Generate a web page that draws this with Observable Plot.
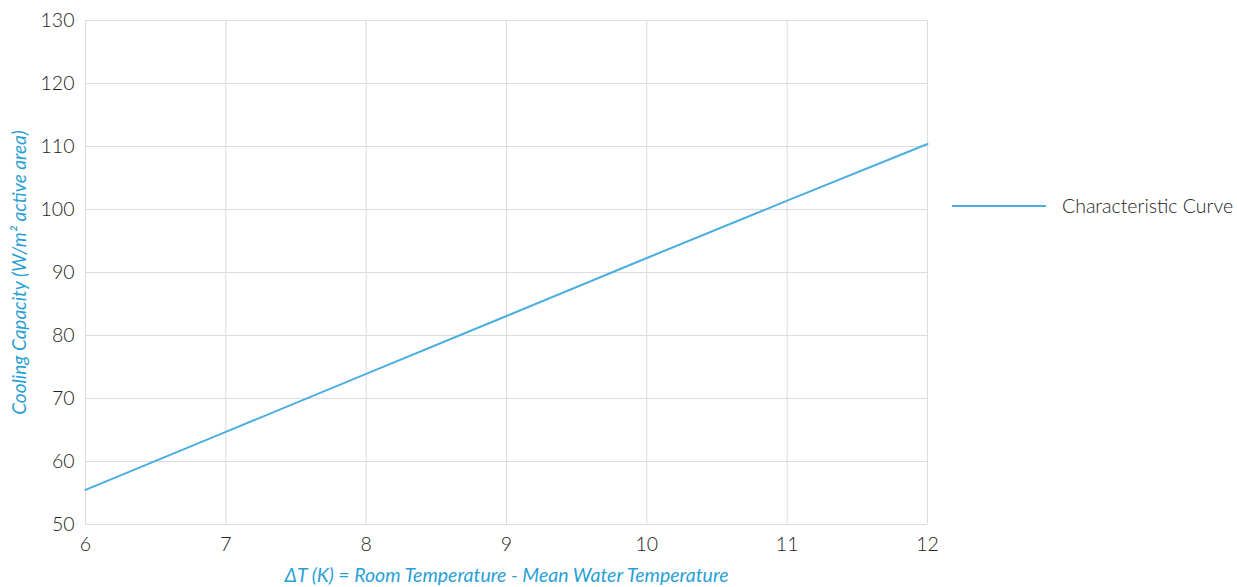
<!DOCTYPE html>
<html>
<head>
<meta charset="utf-8">
<script src="https://cdn.jsdelivr.net/npm/d3@7"></script>
<script src="https://cdn.jsdelivr.net/npm/@observablehq/plot@0.6"></script>
<style>
  html, body { margin: 0; padding: 0; background: #fff; }
  #wrap { position: relative; width: 1237px; height: 587px; font-family: Lato, "Open Sans", sans-serif; }
  #legend { position: absolute; left: 952px; top: 194px; display: flex; align-items: center; font-size: 19.5px; font-weight: 300; color: #222; white-space: nowrap; }
</style>
</head>
<body>
<div id="wrap">
  <div id="chart"></div>
  <div id="legend"><svg width="94" height="4" style="margin-right:16px"><line x1="0" y1="2" x2="94" y2="2" stroke="#4aaee0" stroke-width="2"/></svg><span>Characteristic Curve</span></div>
</div>
<script>
const deltaT = [6, 7, 8, 9, 10, 11, 12];
const capacity = [55.5, 64.7, 73.9, 83.1, 92.3, 101.4, 110.4];
const xTicks = [6, 7, 8, 9, 10, 11, 12];
const yTicks = [50, 60, 70, 80, 90, 100, 110, 120, 130];
const xTitle = "ΔT (K) = Room Temperature - Mean Water Temperature";
const yTitle = "Cooling Capacity (W/m² active area)";
const seriesName = "Characteristic Curve";

const data = deltaT.map((d, i) => ({x: d, y: capacity[i]}));
const blue = "#4aaee0";
const titleBlue = "#2a9fd6";

const chart = Plot.plot({
  width: 1237,
  height: 587,
  marginLeft: 85,
  marginRight: 310,
  marginTop: 20,
  marginBottom: 63,
  style: {fontFamily: "Lato, 'Open Sans', sans-serif", background: "#fff"},
  x: {domain: [6, 12], ticks: xTicks, tickFormat: "d"},
  y: {domain: [50, 130], ticks: yTicks, tickFormat: "d"},
  marks: [
    Plot.gridX(xTicks, {stroke: "#dcdcdc", strokeOpacity: 1, strokeWidth: 1}),
    Plot.gridY(yTicks, {stroke: "#dcdcdc", strokeOpacity: 1, strokeWidth: 1}),
    Plot.axisX(xTicks, {tickSize: 0, tickPadding: 13, fontSize: 19.5, fontWeight: 300, fill: "#222", tickFormat: "d", label: null}),
    Plot.axisY(yTicks, {tickSize: 0, tickPadding: 11, fontSize: 19.5, fontWeight: 300, fill: "#222", tickFormat: "d", label: null}),
    Plot.line(data, {x: "x", y: "y", stroke: blue, strokeWidth: 2}),
    Plot.text([xTitle], {frameAnchor: "bottom", dy: 51, text: d => d, fill: titleBlue, fontSize: 19.5, fontStyle: "italic", lineAnchor: "middle", textAnchor: "middle"}),
    Plot.text([yTitle], {frameAnchor: "left", dx: -66, rotate: -90, text: d => d, fill: titleBlue, fontSize: 19, fontStyle: "italic", lineAnchor: "middle", textAnchor: "middle"})
  ]
});
document.getElementById("chart").appendChild(chart);
</script>
</body>
</html>
